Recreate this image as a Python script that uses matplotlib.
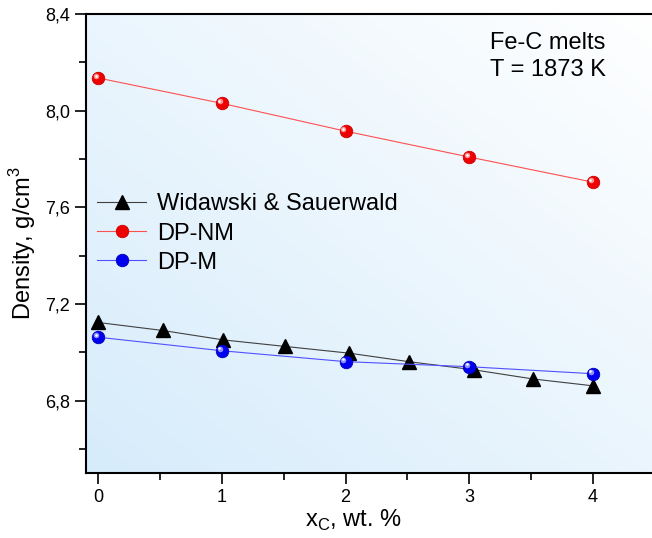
import matplotlib.pyplot as plt
import numpy as np
from matplotlib.ticker import MultipleLocator, FuncFormatter
from matplotlib.transforms import offset_copy

plt.rcParams['font.family'] = ['Liberation Sans', 'DejaVu Sans']

# data
x_ws = [0.0, 0.52, 1.01, 1.51, 2.03, 2.51, 3.04, 3.52, 4.0]
rho_ws = [7.123, 7.090, 7.051, 7.024, 6.996, 6.961, 6.927, 6.889, 6.861]
x_dp = [0, 1, 2, 3, 4]
rho_nm = [8.135, 8.030, 7.915, 7.808, 7.704]
rho_m = [7.062, 7.006, 6.961, 6.940, 6.911]

fig = plt.figure(figsize=(6.52, 5.38), dpi=100)
ax = fig.add_axes([0.1319, 0.1208, 0.891, 0.8532])
ax.set_xlim(-0.1, 4.6)
ax.set_ylim(6.5, 8.4)

# background gradient: light blue bottom-left -> white top-right
gx, gy = np.meshgrid(np.linspace(0, 1, 200), np.linspace(0, 1, 200))
t = np.clip(((1 - gx) + gy) / 2.0, 0, 1)
c0 = np.array([1.0, 1.0, 1.0])
c1 = np.array([0.84, 0.925, 0.985])
img = c0[None, None, :] * (1 - t[..., None]) + c1[None, None, :] * t[..., None]
ax.imshow(img, extent=[0, 1, 0, 1], transform=ax.transAxes, aspect='auto',
          zorder=0, origin='upper')

ax.plot(x_ws, rho_ws, color='#404040', lw=0.8, marker='^', ms=9.5,
        mfc='black', mec='black', label='Widawski & Sauerwald', zorder=3)
ax.plot(x_dp, rho_nm, color='#ff5050', lw=0.8, marker='o', ms=9,
        mfc='#ee0000', mec='#cc0000', mew=0.6, label='DP-NM', zorder=3)
ax.plot(x_dp, rho_m, color='#5050ff', lw=0.8, marker='o', ms=9,
        mfc='#0000ee', mec='#0000bb', mew=0.6, label='DP-M', zorder=3)
# specular highlights on the balls, shifted up-left
hl = offset_copy(ax.transData, fig=fig, x=-1.5, y=1.5, units='points')
ax.plot(x_dp, rho_nm, ls='none', marker='o', ms=4, mfc='#ff9090', mec='none',
        zorder=4, transform=hl)
ax.plot(x_dp, rho_m, ls='none', marker='o', ms=4, mfc='#9090ff', mec='none',
        zorder=4, transform=hl)
hl2 = offset_copy(ax.transData, fig=fig, x=-1.8, y=1.8, units='points')
ax.plot(x_dp, rho_nm, ls='none', marker='o', ms=1.8, mfc='white', mec='none',
        zorder=5, transform=hl2)
ax.plot(x_dp, rho_m, ls='none', marker='o', ms=1.8, mfc='white', mec='none',
        zorder=5, transform=hl2)

ax.xaxis.set_major_locator(MultipleLocator(1))
ax.xaxis.set_minor_locator(MultipleLocator(0.5))
ax.yaxis.set_major_locator(MultipleLocator(0.4))
ax.yaxis.set_minor_locator(MultipleLocator(0.2))
ax.yaxis.set_major_formatter(FuncFormatter(lambda v, p: f'{v:.1f}'.replace('.', ',')))
ax.tick_params(which='major', direction='out', length=8, width=1.2, labelsize=13)
ax.tick_params(which='minor', direction='out', length=5, width=1.2)
for s in ax.spines.values():
    s.set_linewidth(1.5)

ax.set_xlabel(r'x$_\mathregular{C}$, wt. %', fontsize=17)
ax.xaxis.set_label_coords(0.461, -0.075, transform=ax.transAxes)
ax.xaxis.label.set_va('top')
ax.set_ylabel(r'Density, g/cm$^\mathregular{3}$', fontsize=17, labelpad=5)

ax.text(0.795, 0.96, 'Fe-C melts\nT = 1873 K', transform=ax.transAxes,
        fontsize=17, ha='center', va='top', linespacing=1.3)

ax.legend(loc='upper left', bbox_to_anchor=(-0.01, 0.645), frameon=False,
          fontsize=17, handlelength=2.1, handletextpad=0.45, labelspacing=0.3,
          borderaxespad=0.3)

fig.savefig('out.png', dpi=100)
